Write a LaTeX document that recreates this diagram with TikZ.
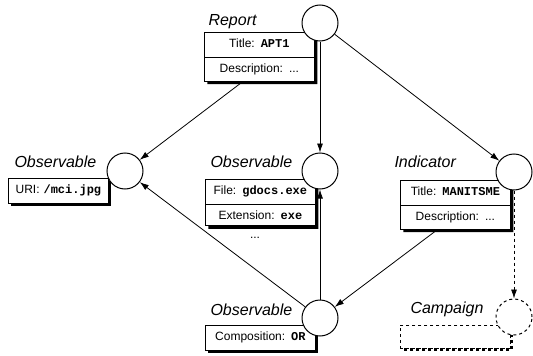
\documentclass[tikz,border=0pt]{standalone}
\usepackage{fontspec}
\setmainfont{Liberation Sans}
\setmonofont{Liberation Mono}
\usetikzlibrary{arrows.meta}
\usetikzlibrary{backgrounds}
\usetikzlibrary{shapes.multipart}
\usetikzlibrary{shadows}
\tikzset{t/.style={font=\fontsize{16}{16}\selectfont\itshape}}
\tikzset{f/.style={font=\fontsize{12}{12}\selectfont}}
\tikzset{obj/.style={circle,draw,fill=white,line width=1pt,minimum size=36pt,inner sep=0pt}}
\tikzset{box/.style={f,rectangle split,rectangle split parts=#1,draw,fill=white,line width=0.8pt,
  text width=100pt,align=center,inner xsep=5pt,inner ysep=6pt,text height=9pt,text depth=3pt,
  drop shadow={shadow xshift=3pt,shadow yshift=-3pt,opacity=1,fill=black},anchor=north west}}
\tikzset{ref/.style={-{Latex[length=9pt,width=6pt]},line width=0.8pt}}
\newcommand{\val}[1]{\texttt{\bfseries #1}}

\begin{document}
\begin{tikzpicture}[x=1pt,y=-1pt]
  \useasboundingbox (0,0) rectangle (533,356);
  % boxes
  \node[box=2] (rb) at (204,32) {Title: \val{APT1}\nodepart{two}Description: ...};
  \node[box=1,text width=90pt] (ob1) at (8,178) {URI: \val{/mci.jpg}};
  \node[box=2] (ob2) at (205,179) {File: \val{gdocs.exe}\nodepart{two}Extension: \val{exe}};
  \node[f] (more) at (255,238) {...};
  \node[box=2] (ib) at (400,180) {Title: \val{MANITSME}\nodepart{two}Description: ...};
  \node[box=1] (ob3) at (205,325) {Composition: \val{OR}};
  \draw[dashed,line width=2.5pt] (511.5,328) -- (511.5,349.5) -- (403,349.5);
  \node[draw,dashed,fill=white,line width=0.8pt,minimum width=110pt,minimum height=23pt,
    anchor=north west] (cb) at (400,325) {};
  % labels
  \node[t,anchor=base west] at (205,25) {Report};
  \node[t,anchor=base west] at (11,167) {Observable};
  \node[t,anchor=base west] at (207,167) {Observable};
  \node[t,anchor=base west] at (391,167) {Indicator};
  \node[t,anchor=base west] at (207,315) {Observable};
  \node[t,anchor=base west] at (407,313) {Campaign};
  % objects
  \node[obj] (r) at (320,23) {};
  \node[obj] (o1) at (125,171) {};
  \node[obj] (o2) at (320,171) {};
  \node[obj] (i) at (514,172) {};
  \node[obj] (o3) at (320,318) {};
  \node[obj,dashed] (c) at (514,317) {};
  \begin{pgfonlayer}{background}
    \draw[ref] (r) -- (o1);
    \draw[ref] (r) -- (o2);
    \draw[ref] (r) -- (i);
    \draw[ref] (o3) -- (o1);
    \draw[ref] (o3) -- (o2);
    \draw[ref] (i) -- (o3);
    \draw[ref,dashed] (i) -- (c);
  \end{pgfonlayer}
\end{tikzpicture}
\end{document}
